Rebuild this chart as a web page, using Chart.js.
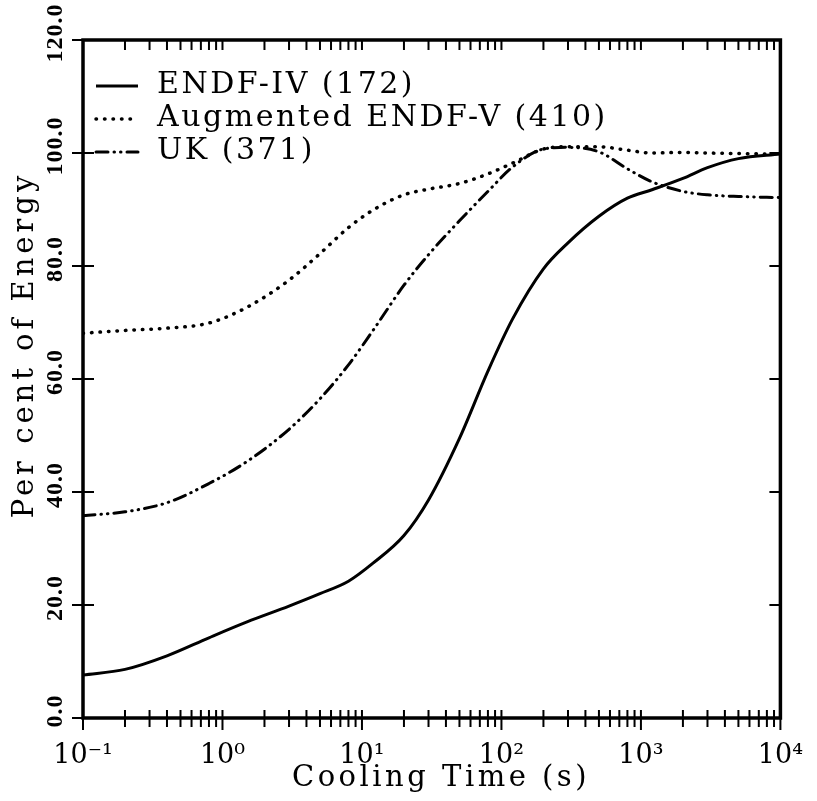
<!DOCTYPE html>
<html>
<head>
<meta charset="utf-8">
<script src="https://cdn.jsdelivr.net/npm/chart.js@4.4.1/dist/chart.umd.min.js"></script>
<style>
    html, body { margin: 0; padding: 0; background: #fff; }
    #box { width: 817px; height: 801px; }
</style>
</head>
<body>
<div id="box"><canvas id="energyChart"></canvas></div>
<script>
// values (cooling time in s, per cent of energy)
const coolingTimes = [0.1, 0.2, 0.4, 0.8, 1.5, 3, 5, 8, 12, 20, 30, 50, 80, 120, 200, 300, 500, 800, 1200, 2000, 3000, 5000, 10000];
const endf4 = [7.6, 8.6, 11.0, 14.2, 17.0, 19.8, 22.0, 24.2, 27.4, 32.3, 38.6, 49.5, 61.4, 70.6, 79.5, 84.1, 88.8, 92.0, 93.5, 95.5, 97.4, 99.0, 99.8];
const augEndf5 = [68.1, 68.6, 69.0, 69.9, 72.7, 77.5, 82.2, 86.8, 89.9, 92.6, 93.6, 94.6, 96.3, 98.2, 100.7, 101.1, 101.1, 100.5, 100.0, 100.1, 100.0, 99.9, 99.8];
const uk = [35.8, 36.5, 38.1, 41.5, 45.4, 51.1, 56.5, 62.5, 68.6, 76.6, 82.0, 88.0, 93.2, 97.5, 100.7, 101.0, 100.2, 97.2, 94.9, 93.2, 92.6, 92.3, 92.1];

const seriesLabels = ["ENDF-IV (172)", "Augmented ENDF-V (410)", "UK (371)"];
const xTitle = "Cooling Time (s)";
const yTitle = "Per cent of Energy";

// axis ticks
const yTicks = [0, 20, 40, 60, 80, 100, 120];
const xDecades = [0.1, 1, 10, 100, 1000, 10000];
const xDecadeLabels = ["10\u207B\u00B9", "10\u2070", "10\u00B9", "10\u00B2", "10\u00B3", "10\u2074"];
const minorSteps = [2, 3, 4, 5, 6, 7, 8, 9];

const serif = "'DejaVu Serif', serif";

function toPoints(values) {
    return coolingTimes.map((t, i) => ({ x: t, y: values[i] }));
}

function isDecade(v) {
    return Math.abs(Math.log10(v) - Math.round(Math.log10(v))) < 1e-6;
}

// frame, tick marks, vertical tick labels, axis titles and legend like the original plot
const framePlugin = {
    id: "frame",
    afterDraw(chart) {
        const ctx = chart.ctx;
        const { left, right, top, bottom } = chart.chartArea;
        const xs = chart.scales.x;
        const ys = chart.scales.y;
        ctx.save();
        ctx.strokeStyle = "#000";
        ctx.fillStyle = "#000";

        // tick marks
        ctx.lineWidth = 2;
        ctx.beginPath();
        xs.ticks.forEach(t => {
            const px = xs.getPixelForValue(t.value);
            const big = isDecade(t.value);
            ctx.moveTo(px, bottom - 8);
            ctx.lineTo(px, bottom + (big ? 12 : 9));
            ctx.moveTo(px, top);
            ctx.lineTo(px, top + 10);
        });
        ys.ticks.forEach(t => {
            const py = ys.getPixelForValue(t.value);
            ctx.moveTo(left - 11, py);
            ctx.lineTo(left + 11, py);
            ctx.moveTo(right, py);
            ctx.lineTo(right - 11, py);
        });
        ctx.stroke();

        // box
        ctx.lineWidth = 3.5;
        ctx.strokeRect(left, top, right - left, bottom - top);

        // y tick labels, turned like in the scan
        ctx.textAlign = "center";
        ctx.textBaseline = "middle";
        ctx.font = "bold 24px 'Liberation Serif', serif";
        ctx.letterSpacing = "1px";
        ys.ticks.forEach(t => {
            const py = ys.getPixelForValue(t.value);
            ctx.save();
            ctx.translate(56, py - 7);
            ctx.rotate(-Math.PI / 2);
            ctx.fillText(t.value.toFixed(1), 0, 0);
            ctx.restore();
        });

        // axis titles (wide lettering as in the scan)
        ctx.letterSpacing = "3.5px";
        ctx.font = "29px " + serif;
        ctx.fillText(xTitle, 441, 778);
        ctx.save();
        ctx.translate(25, 347);
        ctx.rotate(-Math.PI / 2);
        ctx.letterSpacing = "4px";
        ctx.fillText(yTitle, 2, 0);
        ctx.restore();

        // legend
        ctx.textAlign = "left";
        ctx.letterSpacing = "2.5px";
        ctx.font = "30px " + serif;
        chart.data.datasets.forEach((ds, i) => {
            const rowY = top + 45 + i * 33;
            ctx.lineWidth = ds.borderWidth;
            ctx.lineCap = ds.borderCapStyle || "butt";
            ctx.setLineDash(ds.borderDash || []);
            ctx.beginPath();
            ctx.moveTo(left + 13, rowY + 1);
            ctx.lineTo(left + 55, rowY + 1);
            ctx.stroke();
            ctx.setLineDash([]);
            ctx.fillText(ds.label, left + 74, rowY);
        });
        ctx.letterSpacing = "0px";
        ctx.restore();
    }
};

new Chart("energyChart", {
    type: "line",
    data: {
        datasets: [{
            label: seriesLabels[0],
            data: toPoints(endf4),
            borderColor: "#000",
            borderWidth: 3,
            borderDash: [],
            fill: false
        }, {
            label: seriesLabels[1],
            data: toPoints(augEndf5),
            borderColor: "#000",
            borderWidth: 3.5,
            borderDash: [0.5, 8],
            borderCapStyle: "round",
            fill: false
        }, {
            label: seriesLabels[2],
            data: toPoints(uk),
            borderColor: "#000",
            borderWidth: 3,
            borderDash: [12, 6, 0.5, 6, 0.5, 6],
            borderCapStyle: "round",
            fill: false
        }]
    },
    options: {
        responsive: true,
        maintainAspectRatio: false,
        animation: false,
        layout: { padding: { left: 0, right: 29, top: 40, bottom: 0 } },
        elements: {
            point: { radius: 0 },
            line: { cubicInterpolationMode: "monotone" }
        },
        plugins: {
            legend: { display: false },
            tooltip: { enabled: false }
        },
        scales: {
            x: {
                type: "logarithmic",
                min: 0.1,
                max: 10000,
                afterBuildTicks: s => {
                    const ticks = [];
                    xDecades.forEach(d => {
                        ticks.push({ value: d, major: true });
                        if (d < 10000) minorSteps.forEach(m => ticks.push({ value: d * m }));
                    });
                    s.ticks = ticks;
                },
                afterFit: s => { s.height = 83; },
                grid: { display: false },
                border: { display: false },
                ticks: {
                    autoSkip: false,
                    minRotation: 0,
                    maxRotation: 0,
                    padding: 14,
                    color: "#000",
                    font: { family: serif, size: 27 },
                    callback: v => {
                        const k = xDecades.findIndex(d => Math.abs(d - v) / d < 1e-6);
                        return k >= 0 ? xDecadeLabels[k] : "";
                    }
                },
                title: { display: false }
            },
            y: {
                min: 0,
                max: 120,
                afterBuildTicks: s => { s.ticks = yTicks.map(v => ({ value: v })); },
                afterFit: s => { s.width = 83; },
                grid: { display: false },
                border: { display: false },
                ticks: { display: false },
                title: { display: false }
            }
        }
    },
    plugins: [framePlugin]
});
</script>
</body>
</html>
